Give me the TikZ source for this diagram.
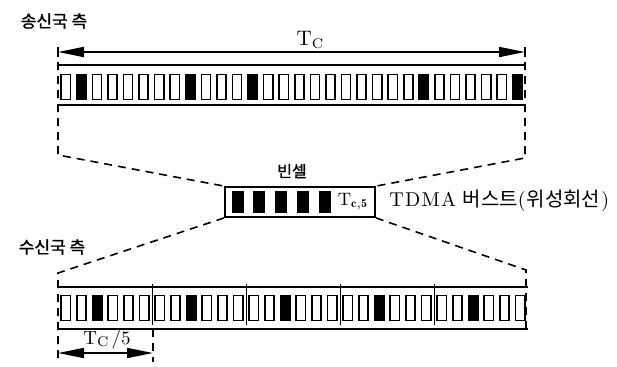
\documentclass[tikz,border=0pt]{standalone}
\usepackage{fontspec}
\newfontfamily\cjk{Noto Sans CJK KR}
\newfontfamily\cjkb[FakeBold=1.2]{Noto Sans CJK KR}
\usetikzlibrary{arrows.meta}
\begin{document}
\begin{tikzpicture}[x=0.5pt,y=-0.5pt,
  hcell/.style={draw, line width=0.8pt, minimum width=4.6pt, minimum height=12.5pt, inner sep=0pt},
  bstrip/.style={line width=0.9pt},
  dashline/.style={line width=0.8pt, dash pattern=on 4pt off 3pt},
  dimarrow/.style={line width=0.9pt, {Triangle[length=13pt,width=5pt]}-{Triangle[length=13pt,width=5pt]}},
  lbl/.style={inner sep=0pt}]
\useasboundingbox (0,0) rectangle (617,366);
% ---------------- labels
\node[lbl] (sendlbl) at (54,21) {\cjkb\fontsize{8.5pt}{10pt}\selectfont 송신국 측};
\node[lbl] (recvlbl) at (52,247) {\cjkb\fontsize{8.5pt}{10pt}\selectfont 수신국 측};
% ---------------- top Tc arrow
\coordinate (aL) at (58,52);
\coordinate (aR) at (525,52);
\draw[line width=0.7pt] (58,47) -- (58,57) (525,47) -- (525,57);
\draw[dimarrow] (aL) -- (aR);
\node[lbl] (tclbl) at (310,40) {\fontsize{10.5pt}{12pt}\selectfont T\raisebox{-0.25ex}{\scriptsize C}};
% ---------------- top strip
\coordinate (tTL) at (58,65);
\coordinate (tTR) at (525,65);
\coordinate (tBL) at (58,105);
\coordinate (tBR) at (525,105);
\draw[bstrip] (tTL) -- (tTR);
\draw[bstrip] (tBL) -- (tBR);
\foreach \i in {1,...,30}{
  \pgfmathsetmacro\xx{58+15.57*(\i-0.5)}
  \node[hcell] (t\i) at (\xx,87) {};
}
\foreach \i in {2,9,13,24,30}{
  \fill (t\i.south west) rectangle (t\i.north east);
}
% ---------------- burst box
\node[draw, line width=0.9pt, minimum width=75pt, minimum height=15pt, inner sep=0pt] (burst) at (300,202) {};
\foreach \i/\xx in {1/238,2/259,3/281,4/303,5/325}{
  \node[hcell, fill=black, minimum width=5pt, minimum height=10.5pt] (u\i) at (\xx,202) {};
}
\node[lbl] (tc5) at (353,202) {\fontsize{9pt}{10pt}\selectfont T$_{\mathbf{c,5}}$};
\node[lbl] (bincell) at (292,171) {\cjkb\fontsize{8pt}{9pt}\selectfont 빈셀};
\node[lbl, anchor=west] (tdma) at (389,201) {\fontsize{10pt}{11pt}\selectfont T\kern0.6pt D\kern0.6pt M\kern0.6pt A\ {\cjk 버스트}(\hspace{0.5pt}{\cjk 위성회선}\hspace{0.5pt})};
% ---------------- dashed zoom lines
\coordinate (dTL1) at (58,62);
\coordinate (dTL2) at (58,155);
\coordinate (dTR1) at (525,62);
\coordinate (dTR2) at (525,158);
\draw[dashline] (dTL1) -- (dTL2) -- (burst.north west);
\draw[dashline] (dTR1) -- (dTR2) -- (burst.north east);
\coordinate (dBL1) at (58,273);
\coordinate (dBL2) at (58,362);
\coordinate (dBR1) at (526,270);
\coordinate (dBR2) at (526,330);
\draw[dashline] (burst.south west) -- (dBL1) -- (dBL2);
\draw[dashline] (burst.south east) -- (dBR1) -- (dBR2);
% ---------------- bottom strip
\coordinate (bTL) at (58,287);
\coordinate (bTR) at (528,287);
\coordinate (bBL) at (58,329);
\coordinate (bBR) at (528,329);
\draw[bstrip] (bTL) -- (bTR);
\draw[bstrip] (bBL) -- (bBR);
\foreach \g in {0,...,4}{
  \foreach \k in {1,...,6}{
    \pgfmathsetmacro\xx{58+94*\g+15.67*(\k-0.5)}
    \node[hcell] (b\g\k) at (\xx,308) {};
  }
  \fill (b\g3.south west) rectangle (b\g3.north east);
}
\foreach \g/\xx in {1/152,2/246,3/340,4/434}{
  \coordinate (vt\g) at (\xx,284);
  \coordinate (vb\g) at (\xx,325);
  \draw[line width=0.5pt] (vt\g) -- (vb\g);
}
% ---------------- Tc/5 dimension
\coordinate (q1) at (153,329);
\coordinate (q2) at (153,362);
\draw[dashline] (q1) -- (q2);
\coordinate (e1) at (58,353);
\coordinate (e2) at (153,353);
\draw[dimarrow] (e1) -- (e2);
\node[lbl] (tc5lbl) at (107,340) {\fontsize{9.5pt}{11pt}\selectfont T\raisebox{-0.2ex}{\scriptsize C}\,/5};
\end{tikzpicture}
\end{document}
